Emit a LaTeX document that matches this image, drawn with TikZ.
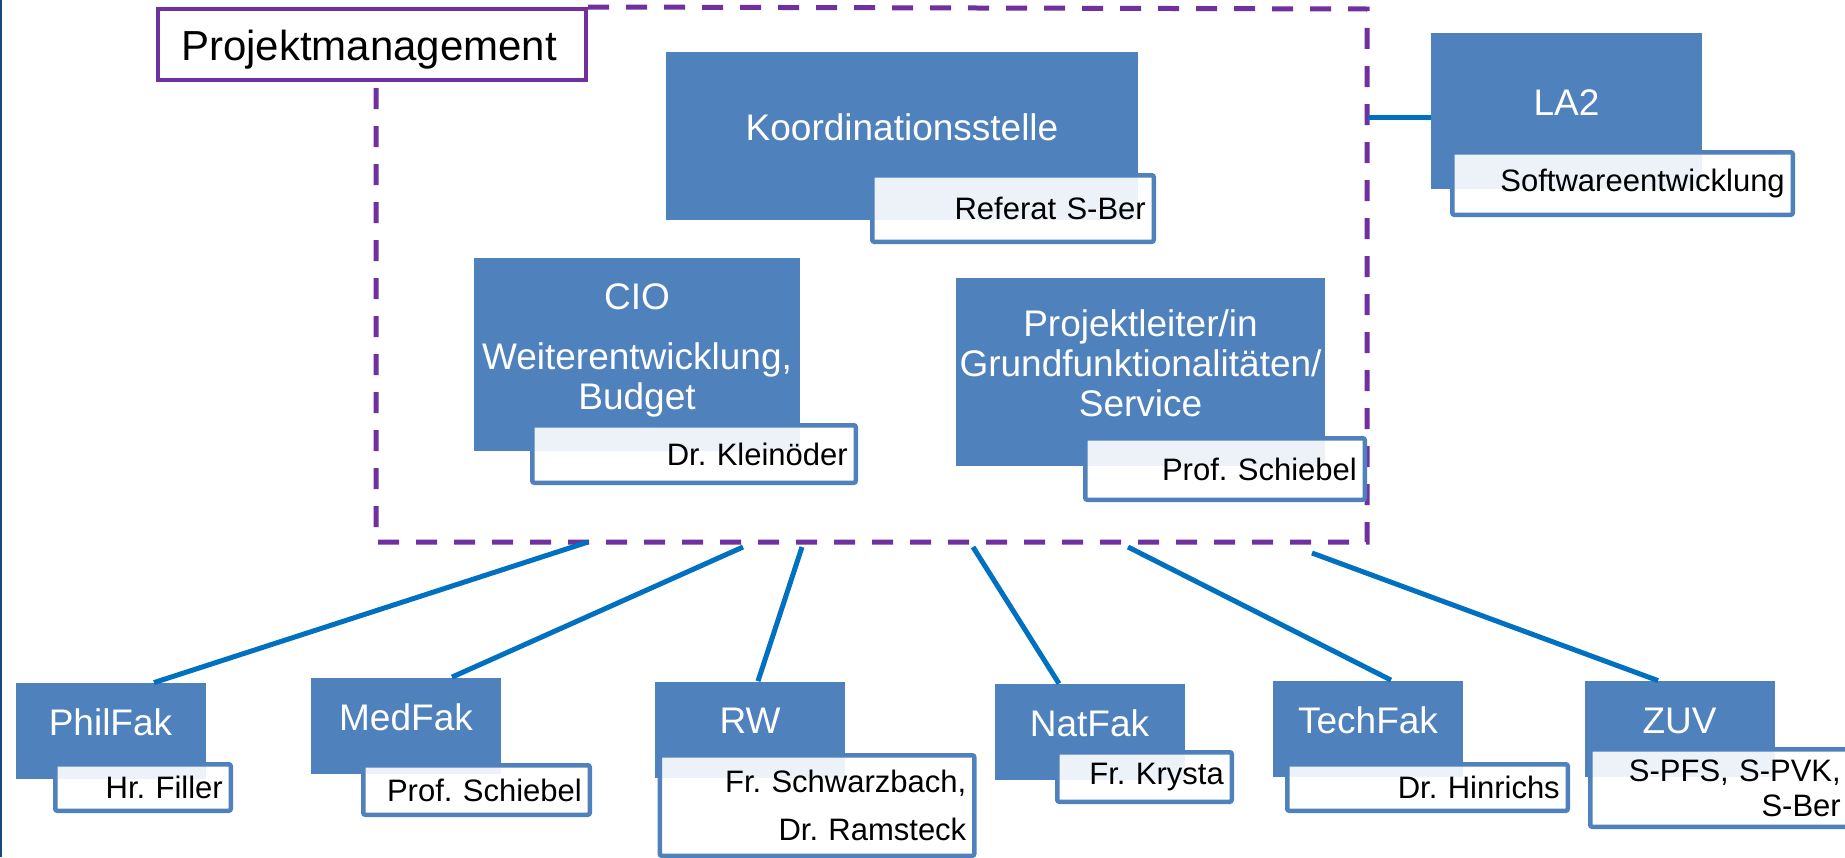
\documentclass[tikz,border=0pt]{standalone}
\usepackage{fontspec}
\setmainfont{Liberation Sans}
\frenchspacing

\definecolor{boxblue}{HTML}{4F81BD}
\definecolor{linkblue}{HTML}{0070C0}
\definecolor{pmpurple}{HTML}{7030A0}
\definecolor{edgeblue}{HTML}{17497C}

\begin{document}
\begin{tikzpicture}[x=0.5pt,y=-0.5pt,
  unit node/.style={fill=boxblue,text=white,inner sep=0pt,align=center,
    font=\fontsize{18.5}{20}\selectfont,text depth=8.5pt},
  fak node/.style={unit node,minimum width=95pt,minimum height=48pt},
  name node/.style={draw=boxblue,line width=2.25pt,fill=white,fill opacity=0.9,
    text opacity=1,rounded corners=1pt,inner xsep=4pt,inner ysep=0pt,align=right,
    font=\fontsize{15.5}{17.5}\selectfont},
  pm node/.style={draw=pmpurple,line width=2pt,fill=white,inner xsep=11.5pt,inner ysep=0pt,
    align=left,font=\fontsize{21}{25}\selectfont,text height=20.5pt,text depth=4.5pt},
  frame/.style={draw=pmpurple,line width=2.5pt,dash pattern=on 10.5pt off 8.5pt},
  link/.style={draw=linkblue,line width=2.5pt}]

 \useasboundingbox (0,0) rectangle (1845,857);
 \draw[edgeblue,line width=1pt] (1,0) -- (1,857);

 % Projektmanagement
 \node[pm node,text width=191pt,minimum height=35.5pt] (pm) at (372,44.5) {Projektmanagement};
 \coordinate (fne) at (1367,9);
 \coordinate (fse) at (1367,542);
 \coordinate (fsw) at (376,542);
 \draw[frame] (pm.north east) -- (fne) -- (fse) -- (fsw) -- (fsw |- pm.south);

 \node[unit node,minimum width=236pt,minimum height=84pt] (koord) at (902,136) {Koordinationsstelle};
 \node[unit node,minimum width=163pt,minimum height=96.5pt,text depth=7.5pt] (cio) at (637,354.5) {CIO\\[10pt]Weiterentwicklung,\\Budget};
 \node[unit node,minimum width=184.5pt,minimum height=94pt] (pl) at (1140.5,372) {Projektleiter/in\\Grundfunktionalitäten/\\Service};
 \node[unit node,minimum width=135.5pt,minimum height=78pt] (la2) at (1566.5,111) {LA2};

 \node[name node,text width=132.75pt,minimum height=33.25pt] (koordname) at (1013,208.5) {Referat S-Ber};
 \node[name node,text width=153.75pt,minimum height=28.75pt] (cioname) at (694,454) {Dr. Kleinöder};
 \node[name node,text width=131.75pt,minimum height=30.75pt] (plname) at (1225,469) {Prof. Schiebel};
 \node[name node,text width=162.25pt,minimum height=31.25pt] (la2name) at (1622.5,183.5) {Softwareentwicklung};

 % Fakultaeten
 \node[fak node] (phil) at (110.5,731) {PhilFak};
 \node[fak node] (med) at (406,725.5) {MedFak};
 \node[fak node] (rw) at (750,729.5) {RW};
 \node[fak node] (nat) at (1089.5,732) {NatFak};
 \node[fak node] (tech) at (1368,728.5) {TechFak};
 \node[fak node] (zuv) at (1679.5,729) {ZUV};

 \node[name node,text width=79.75pt,minimum height=23.25pt] (philname) at (143,787.5) {Hr. Filler};
 \node[name node,text width=105.25pt,minimum height=24.75pt] (medname) at (476.5,790) {Prof. Schiebel};
 \node[name node,text width=149.25pt,minimum height=50.25pt] (rwname) at (817,805.5) {Fr. Schwarzbach,\\[6.5pt]Dr. Ramsteck};
 \node[name node,text width=79.25pt,minimum height=24.75pt] (natname) at (1144.5,777) {Fr. Krysta};
 \node[name node,text width=132.25pt,minimum height=23.25pt] (techname) at (1427.5,787.5) {Dr. Hinrichs};
 \node[name node,text width=121.25pt,minimum height=38.75pt] (zuvname) at (1719.5,788) {S-PFS, S-PVK,\\S-Ber};

 \coordinate (p1) at (588,542);
 \coordinate (p2) at (743,547);
 \coordinate (p3) at (802,547);
 \coordinate (p4) at (973,547);
 \coordinate (p5) at (1128,547);
 \coordinate (p6) at (1312,553);
 \coordinate (la2in) at (1368,117);

 \path
    (p1) edge[link] ([xshift=21.75pt]phil.north)
    (p2) edge[link] ([xshift=23pt]med.north)
    (p3) edge[link] ([xshift=4pt]rw.north)
    (p4) edge[link] ([xshift=-15.25pt]nat.north)
    (p5) edge[link] ([xshift=11.5pt]tech.north)
    (p6) edge[link] ([xshift=-10.75pt]zuv.north)
    (la2in) edge[link] ([yshift=-3pt]la2.west);

\end{tikzpicture}
\end{document}
